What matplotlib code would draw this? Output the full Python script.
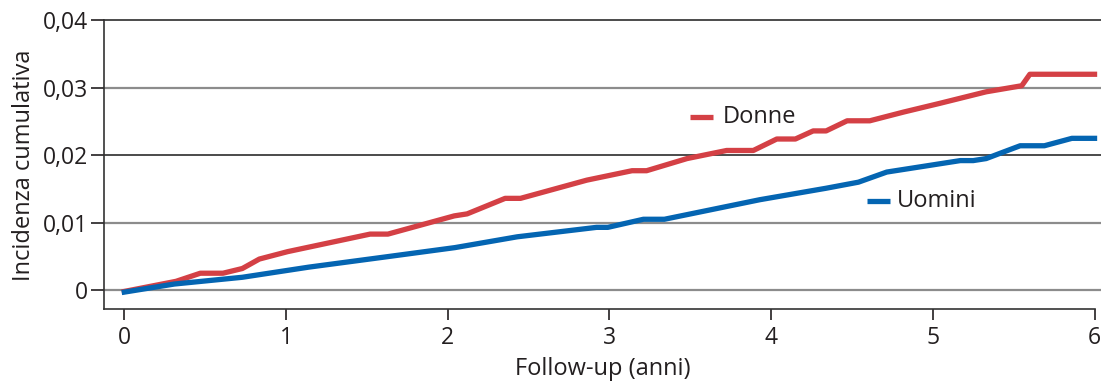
import numpy as np
import matplotlib
matplotlib.use('Agg')
import matplotlib.pyplot as plt

plt.rcParams['font.family'] = ['Open Sans', 'DejaVu Sans']

# dati
anni_donne = [0, 0.32, 0.47, 0.61, 0.73, 0.835, 1.01, 1.52, 1.63, 2.04, 2.12, 2.355, 2.45,
              2.86, 3.14, 3.23, 3.48, 3.725, 3.89, 4.035, 4.15, 4.26, 4.34, 4.47, 4.61,
              4.82, 5.045, 5.33, 5.55, 5.6, 6.0]
inc_donne = [-0.0002, 0.0013, 0.0025, 0.0025, 0.0032, 0.0046, 0.0057, 0.0083, 0.0083, 0.0110,
             0.0113, 0.0136, 0.0136, 0.0163, 0.0177, 0.0177, 0.0195, 0.0207, 0.0207, 0.0224,
             0.0224, 0.0236, 0.0236, 0.0251, 0.0251, 0.0264, 0.0277, 0.0294, 0.0303, 0.0320,
             0.0320]

anni_uomini = [0, 0.31, 0.73, 1.14, 1.61, 2.045, 2.43, 2.92, 2.99, 3.21, 3.34, 3.93, 4.34,
               4.54, 4.715, 5.17, 5.25, 5.33, 5.44, 5.54, 5.69, 5.86, 6.0]
inc_uomini = [-0.0003, 0.0009, 0.0019, 0.0034, 0.0049, 0.0063, 0.0079, 0.0093, 0.0093, 0.0105,
              0.0105, 0.0134, 0.0151, 0.0160, 0.0175, 0.0192, 0.0192, 0.0195, 0.0205, 0.0214,
              0.0214, 0.0225, 0.0225]

y_ticks = [0, 0.01, 0.02, 0.03, 0.04]
y_labels = ['0', '0,01', '0,02', '0,03', '0,04']
x_ticks = [0, 1, 2, 3, 4, 5, 6]

rosso = '#d44045'
blu = '#0465b2'
testo = '#231f20'

fig = plt.figure(figsize=(11.01, 3.81), dpi=100)
ax = fig.add_axes([0.0947, 0.188, 0.9053, 0.7587])

# griglia: 0,02 e 0,04 nere, le altre grigie
for v in y_ticks:
    nera = v in (0.02, 0.04)
    ax.axhline(v, color='#1a1a1a' if nera else '#8c8c8c', lw=1.1 if nera else 1.6,
               zorder=1, clip_on=False)

ax.plot(anni_donne, inc_donne, color=rosso, lw=3.8, zorder=3)
ax.plot(anni_uomini, inc_uomini, color=blu, lw=3.8, zorder=3)

ax.set_xlim(-0.124, 6.04)
ax.set_ylim(-0.00286, 0.04)

for s in ['top', 'right']:
    ax.spines[s].set_visible(False)
for s in ['left', 'bottom']:
    ax.spines[s].set_color('#333333')
    ax.spines[s].set_linewidth(1.2)
ax.spines['bottom'].set_bounds(-0.124, 6.0)

ax.set_yticks(y_ticks)
ax.set_yticklabels(y_labels)
ax.set_xticks(x_ticks)
ax.tick_params(axis='y', length=9.5, width=1.2, pad=2, labelsize=16.5, colors=testo)
ax.tick_params(axis='x', length=8, width=1.2, pad=4, labelsize=16.5, colors=testo)
for v, t in zip(y_ticks, ax.yaxis.get_ticklines()[0::2]):
    t.set_color('#1a1a1a' if v in (0.02, 0.04) else '#8c8c8c')
for t in ax.xaxis.get_ticklines():
    t.set_color('#333333')

ax.set_xlabel('Follow-up (anni)', fontsize=17, color=testo, labelpad=5)
ax.set_ylabel('Incidenza cumulativa', fontsize=17, color=testo, labelpad=5)

# etichette delle serie
ax.plot([3.50, 3.64], [0.0257, 0.0257], color=rosso, lw=3.8, solid_capstyle='butt')
ax.text(3.70, 0.0257, 'Donne', fontsize=17, color=testo, va='center')
ax.plot([4.59, 4.735], [0.01325, 0.01325], color=blu, lw=3.8, solid_capstyle='butt')
ax.text(4.78, 0.01325, 'Uomini', fontsize=17, color=testo, va='center')

fig.savefig('out.png', dpi=100)
